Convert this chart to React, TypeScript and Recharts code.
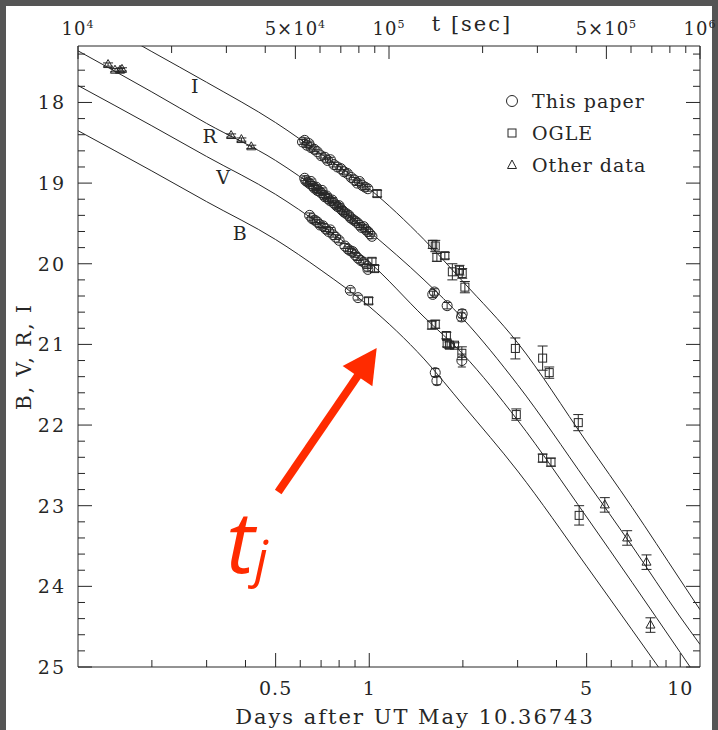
import React from "react";
import {
  ComposedChart,
  Line,
  Scatter,
  XAxis,
  YAxis,
  ErrorBar,
  ReferenceLine,
  ReferenceDot,
  Legend,
} from "recharts";

const SEC_PER_DAY = 86400;
const T_MIN = 1e4 / SEC_PER_DAY;
const T_MAX = 1e6 / SEC_PER_DAY;

const INK = "#262626";
const RED = "#ff2b00";
const SERIF = "'DejaVu Serif', 'Liberation Serif', serif";

// fitted light curves, sampled in days after the burst
const curveDays = [T_MIN, 0.2, 0.3, 0.5, 0.7, 1, 1.5, 2, 3, 5, 7, 10, T_MAX];
const magI = [16.85, 17.37, 17.75, 18.25, 18.64, 19.07, 19.7, 20.22, 20.98, 22.21, 23.02, 23.92, 24.29];
const magR = [17.36, 17.87, 18.26, 18.72, 19.11, 19.6, 20.2, 20.68, 21.5, 22.7, 23.5, 24.38, 24.72];
const magV = [17.79, 18.29, 18.67, 19.14, 19.52, 19.98, 20.66, 21.12, 21.94, 23.14, 23.95, 24.82, 25.18];
const magB = [18.35, 18.85, 19.23, 19.7, 20.08, 20.53, 21.18, 21.75, 22.57, 23.75, 24.54, 25.38, 25.72];

// photometry: [days, mag, error]
type Pt = [number, number, number];

const paperI: Pt[] = [
  [0.61, 18.49, 0.03], [0.62, 18.47, 0.03], [0.63, 18.53, 0.03], [0.64, 18.51, 0.03],
  [0.65, 18.56, 0.03], [0.665, 18.58, 0.03], [0.68, 18.61, 0.03], [0.7, 18.66, 0.03],
  [0.72, 18.68, 0.03], [0.735, 18.72, 0.03], [0.75, 18.71, 0.03], [0.77, 18.77, 0.03],
  [0.79, 18.8, 0.03], [0.81, 18.82, 0.03], [0.83, 18.86, 0.03], [0.85, 18.88, 0.03],
  [0.875, 18.93, 0.03], [0.895, 18.96, 0.03], [0.915, 19.0, 0.03], [0.93, 18.98, 0.03],
  [0.95, 19.03, 0.03], [0.97, 19.05, 0.03], [0.99, 19.07, 0.03],
];
const paperR: Pt[] = [
  [0.62, 18.94, 0.03], [0.625, 18.97, 0.03], [0.635, 18.99, 0.03], [0.645, 19.01, 0.03],
  [0.65, 18.98, 0.03], [0.66, 19.04, 0.03], [0.665, 19.06, 0.03], [0.675, 19.05, 0.03],
  [0.68, 19.09, 0.03], [0.69, 19.1, 0.03], [0.7, 19.12, 0.03], [0.705, 19.09, 0.03],
  [0.715, 19.15, 0.03], [0.72, 19.17, 0.03], [0.73, 19.16, 0.03], [0.74, 19.2, 0.03],
  [0.75, 19.22, 0.03], [0.76, 19.21, 0.03], [0.77, 19.25, 0.03], [0.78, 19.27, 0.03],
  [0.79, 19.29, 0.03], [0.8, 19.28, 0.03], [0.81, 19.32, 0.03], [0.82, 19.34, 0.03],
  [0.83, 19.36, 0.03], [0.845, 19.38, 0.03], [0.86, 19.4, 0.03], [0.87, 19.43, 0.03],
  [0.885, 19.45, 0.03], [0.9, 19.47, 0.03], [0.915, 19.49, 0.03], [0.93, 19.52, 0.03],
  [0.945, 19.55, 0.03], [0.96, 19.54, 0.03], [0.975, 19.58, 0.03], [0.99, 19.6, 0.03],
  [1.005, 19.63, 0.03], [1.02, 19.66, 0.03],
  [1.6, 20.38, 0.04], [1.62, 20.35, 0.04], [1.78, 20.52, 0.04], [1.98, 20.66, 0.05],
  [1.99, 20.62, 0.05],
];
const paperV: Pt[] = [
  [0.643, 19.4, 0.03], [0.655, 19.44, 0.03], [0.668, 19.46, 0.03], [0.68, 19.48, 0.03],
  [0.695, 19.52, 0.03], [0.71, 19.53, 0.03], [0.725, 19.57, 0.03], [0.74, 19.6, 0.03],
  [0.75, 19.58, 0.03], [0.765, 19.64, 0.03], [0.78, 19.67, 0.03], [0.8, 19.71, 0.03],
  [0.835, 19.78, 0.03], [0.855, 19.82, 0.03], [0.87, 19.84, 0.03], [0.885, 19.85, 0.03],
  [0.9, 19.89, 0.03], [0.92, 19.93, 0.03], [0.94, 19.96, 0.03], [0.96, 19.98, 0.03],
  [0.985, 20.03, 0.03], [0.99, 20.07, 0.03],
  [1.985, 21.2, 0.08],
];
const paperB: Pt[] = [
  [0.869, 20.33, 0.03], [0.92, 20.42, 0.03], [1.63, 21.35, 0.05], [1.65, 21.45, 0.05],
];

const ogleI: Pt[] = [
  [1.06, 19.13, 0.04], [1.6, 19.76, 0.05], [1.63, 19.78, 0.07], [1.65, 19.92, 0.05],
  [1.75, 19.9, 0.04], [1.85, 20.1, 0.1], [1.95, 20.08, 0.06], [1.99, 20.12, 0.06],
  [2.03, 20.29, 0.07], [2.95, 21.05, 0.13], [3.61, 21.17, 0.15], [3.79, 21.35, 0.07],
  [4.7, 21.97, 0.1],
];
const ogleV: Pt[] = [
  [1.02, 19.97, 0.04], [1.04, 20.06, 0.04], [1.59, 20.76, 0.05], [1.63, 20.75, 0.05],
  [1.77, 20.89, 0.04], [1.78, 20.99, 0.04], [1.81, 21.01, 0.04], [1.88, 21.01, 0.03],
  [1.985, 21.11, 0.08], [2.97, 21.87, 0.07], [3.61, 22.41, 0.05], [3.84, 22.46, 0.05],
  [4.73, 23.12, 0.12],
];
const ogleB: Pt[] = [[0.995, 20.46, 0.04]];

const otherR: Pt[] = [
  [0.1446, 17.53, 0.02], [0.1522, 17.6, 0.02], [0.158, 17.6, 0.02], [0.1603, 17.59, 0.02],
  [0.3596, 18.41, 0.02], [0.388, 18.46, 0.02], [0.4175, 18.55, 0.02],
  [5.72, 22.99, 0.09], [6.75, 23.4, 0.09], [7.79, 23.7, 0.09],
];
const otherV: Pt[] = [[8.02, 24.48, 0.09]];

// axis ticks
const dayTicks = [0.2, 0.3, 0.4, 0.5, 0.6, 0.7, 0.8, 0.9, 1, 2, 3, 4, 5, 6, 7, 8, 9, 10];
const dayLabels = [0.5, 1, 5, 10];
const secTicks = [
  1e4, 2e4, 3e4, 4e4, 5e4, 6e4, 7e4, 8e4, 9e4,
  1e5, 2e5, 3e5, 4e5, 5e5, 6e5, 7e5, 8e5, 9e5, 1e6,
];
const secLabels: Record<number, [string, string]> = {
  10000: ["10", "4"],
  50000: ["5×10", "4"],
  100000: ["10", "5"],
  500000: ["5×10", "5"],
  1000000: ["10", "6"],
};
const magTicks = [
  17.4, 17.6, 17.8, 18, 18.2, 18.4, 18.6, 18.8, 19, 19.2, 19.4, 19.6, 19.8, 20,
  20.2, 20.4, 20.6, 20.8, 21, 21.2, 21.4, 21.6, 21.8, 22, 22.2, 22.4, 22.6, 22.8,
  23, 23.2, 23.4, 23.6, 23.8, 24, 24.2, 24.4, 24.6, 24.8, 25,
];

const curveLabels = [
  { band: "I", t: 0.2747, mag: 17.79 },
  { band: "R", t: 0.3067, mag: 18.41 },
  { band: "V", t: 0.3388, mag: 18.93 },
  { band: "B", t: 0.3831, mag: 19.62 },
];

// jet-break annotation: arrow tail and tip, text anchor
const arrowFrom = { t: 0.5096, mag: 22.83 };
const arrowTo = { t: 1.0567, mag: 21.045 };
const tjAt = { t: 0.347, mag: 23.83 };

const legendItems = [
  { label: "This paper", mark: "circle" },
  { label: "OGLE", mark: "square" },
  { label: "Other data", mark: "triangle" },
];

const toCurve = (mags: number[]) => curveDays.map((t, i) => ({ t, mag: mags[i] }));
const toPoints = (...sets: Pt[][]) =>
  sets.flat().map(([t, mag, err]) => ({ t, mag, err }));

const curves = [toCurve(magI), toCurve(magR), toCurve(magV), toCurve(magB)];
const thisPaper = toPoints(paperI, paperR, paperV, paperB);
const ogle = toPoints(ogleI, ogleV, ogleB);
const otherData = toPoints(otherR, otherV);

const isWhole = (v: number) => Math.abs(v - Math.round(v)) < 1e-6;

const DayTick = (props: any) => {
  const { x, y, payload } = props;
  const major = dayLabels.includes(payload.value);
  return (
    <g>
      <line x1={x} y1={y} x2={x} y2={y - (major ? 14 : 7)} stroke={INK} />
      {major && (
        <text
          x={x}
          y={y + 28}
          textAnchor="middle"
          fontFamily={SERIF}
          fontSize={19}
          letterSpacing={1}
          fill={INK}
        >
          {payload.value}
        </text>
      )}
    </g>
  );
};

const SecTick = (props: any) => {
  const { x, y, payload } = props;
  const sec = Math.round(payload.value * SEC_PER_DAY);
  const lab = secLabels[sec];
  const major = !!lab;
  return (
    <g>
      <line x1={x} y1={y} x2={x} y2={y + (major ? 13 : 7)} stroke={INK} />
      {lab && (
        <text
          x={x}
          y={y - 11}
          textAnchor="middle"
          fontFamily={SERIF}
          fontSize={18}
          letterSpacing={1}
          fill={INK}
        >
          {lab[0]}
          <tspan dy={-7} fontSize={11}>{lab[1]}</tspan>
        </text>
      )}
    </g>
  );
};

const MagTick = (props: any) => {
  const { x, y, payload } = props;
  const major = isWhole(payload.value);
  return (
    <g>
      <line x1={x} y1={y} x2={x + (major ? 14 : 7)} y2={y} stroke={INK} />
      {major && (
        <text
          x={x - 12}
          y={y + 7}
          textAnchor="end"
          fontFamily={SERIF}
          fontSize={19}
          letterSpacing={2}
          fill={INK}
        >
          {Math.round(payload.value)}
        </text>
      )}
    </g>
  );
};

const MirrorTick = (props: any) => {
  const { x, y, payload } = props;
  const major = isWhole(payload.value);
  return <line x1={x} y1={y} x2={x - (major ? 14 : 7)} y2={y} stroke={INK} />;
};

const CircleMark = (p: any) => (
  <circle cx={p.cx} cy={p.cy} r={5} fill="none" stroke={INK} strokeWidth={1} />
);
const SquareMark = (p: any) => (
  <rect x={p.cx - 4} y={p.cy - 4} width={8} height={8} fill="none" stroke={INK} strokeWidth={1} />
);
const TriangleMark = (p: any) => (
  <polygon
    points={`${p.cx},${p.cy - 5} ${p.cx + 4.5},${p.cy + 3} ${p.cx - 4.5},${p.cy + 3}`}
    fill="none"
    stroke={INK}
    strokeWidth={1}
  />
);

const ArrowShape = (p: any) => {
  const { x1, y1, x2, y2 } = p;
  const len = Math.hypot(x2 - x1, y2 - y1);
  const ux = (x2 - x1) / len;
  const uy = (y2 - y1) / len;
  const headLen = 34;
  const half = 18;
  const bx = x2 - ux * headLen;
  const by = y2 - uy * headLen;
  return (
    <g>
      <line x1={x1} y1={y1} x2={bx + ux * 2} y2={by + uy * 2} stroke={RED} strokeWidth={8} />
      <polygon
        points={`${x2},${y2} ${bx - uy * half},${by + ux * half} ${bx + uy * half},${by - ux * half}`}
        fill={RED}
      />
    </g>
  );
};

const bandLabel = (text: string) => (p: any) => (
  <text
    x={p.viewBox.x}
    y={p.viewBox.y + 7}
    textAnchor="middle"
    fontFamily={SERIF}
    fontSize={19}
    fill={INK}
  >
    {text}
  </text>
);

const tjLabel = (p: any) => (
  <text
    x={p.viewBox.x}
    y={p.viewBox.y}
    fill={RED}
    fontFamily="'Open Sans', 'Noto Sans', sans-serif"
    fontStyle="italic"
    fontSize={86}
  >
    t
    <tspan fontSize={52} dy={4}>j</tspan>
  </text>
);

const LegendBox = () => (
  <div style={{ fontFamily: SERIF, fontSize: 19, letterSpacing: 1, color: INK }}>
    {legendItems.map((it) => (
      <div key={it.label} style={{ display: "flex", alignItems: "center", height: 32 }}>
        <svg width={18} height={18}>
          {it.mark === "circle" && <circle cx={9} cy={9} r={5.5} fill="none" stroke={INK} />}
          {it.mark === "square" && (
            <rect x={5} y={5} width={8} height={8} fill="none" stroke={INK} />
          )}
          {it.mark === "triangle" && (
            <polygon points="9,4 13.5,12.5 4.5,12.5" fill="none" stroke={INK} />
          )}
        </svg>
        <span style={{ marginLeft: 11, lineHeight: "32px" }}>{it.label}</span>
      </div>
    ))}
  </div>
);

export default function App() {
  return (
    <div style={{ position: "absolute", left: 0, top: 0, width: 718, height: 730, background: "#555" }}>
      <div style={{ position: "absolute", left: 6, top: 6, width: 706, height: 724, background: "#fff" }} />
      <div style={{ position: "absolute", left: 0, top: 0 }}>
        <ComposedChart
          width={718}
          height={730}
          margin={{ top: 45, right: 17, bottom: 62, left: 77 }}
        >
          <XAxis
            dataKey="t"
            type="number"
            scale="log"
            domain={[T_MIN, T_MAX]}
            allowDataOverflow
            ticks={dayTicks}
            interval={0}
            height={1}
            tickSize={0}
            tickMargin={0}
            tickLine={false}
            tick={<DayTick />}
            axisLine={{ stroke: INK }}
            label={{
              content: (p: any) => (
                <text
                  x={p.viewBox.x + p.viewBox.width / 2 + 26}
                  y={p.viewBox.y + 57}
                  textAnchor="middle"
                  fontFamily={SERIF}
                  fontSize={21}
                  letterSpacing={2}
                  fill={INK}
                >
                  Days after UT May 10.36743
                </text>
              ),
            }}
          />
          <XAxis
            xAxisId="sec"
            orientation="top"
            dataKey="t"
            type="number"
            scale="log"
            domain={[T_MIN, T_MAX]}
            allowDataOverflow
            ticks={secTicks.map((s) => s / SEC_PER_DAY)}
            interval={0}
            height={1}
            tickSize={0}
            tickMargin={0}
            tickLine={false}
            tick={<SecTick />}
            axisLine={{ stroke: INK }}
            label={{
              content: (p: any) => (
                <text
                  x={p.viewBox.x + 394}
                  y={p.viewBox.y - 14}
                  textAnchor="middle"
                  fontFamily={SERIF}
                  fontSize={21}
                  letterSpacing={2}
                  fill={INK}
                >
                  t [sec]
                </text>
              ),
            }}
          />
          <YAxis
            type="number"
            domain={[17.3, 25]}
            reversed
            allowDataOverflow
            ticks={magTicks}
            interval={0}
            width={1}
            tickSize={0}
            tickMargin={0}
            tickLine={false}
            tick={<MagTick />}
            axisLine={{ stroke: INK }}
            label={{
              content: (p: any) => {
                const cx = p.viewBox.x - 46;
                const cy = p.viewBox.y + p.viewBox.height / 2;
                return (
                  <text
                    x={cx}
                    y={cy}
                    transform={`rotate(-90 ${cx} ${cy})`}
                    textAnchor="middle"
                    fontFamily={SERIF}
                    fontSize={20}
                    letterSpacing={2}
                    fill={INK}
                  >
                    B, V, R, I
                  </text>
                );
              },
            }}
          />
          <YAxis
            yAxisId="mirror"
            orientation="right"
            type="number"
            domain={[17.3, 25]}
            reversed
            allowDataOverflow
            ticks={magTicks}
            interval={0}
            width={1}
            tickSize={0}
            tickMargin={0}
            tickLine={false}
            tick={<MirrorTick />}
            axisLine={{ stroke: INK }}
          />

          {curves.map((c, i) => (
            <Line
              key={i}
              data={c}
              dataKey="mag"
              type="monotone"
              stroke={INK}
              strokeWidth={1}
              dot={false}
              activeDot={false}
              isAnimationActive={false}
            />
          ))}
          <Line
            data={curves[0]}
            xAxisId="sec"
            yAxisId="mirror"
            dataKey="mag"
            stroke="none"
            dot={false}
            activeDot={false}
            isAnimationActive={false}
          />

          <Scatter name="This paper" data={thisPaper} dataKey="mag" shape={CircleMark} isAnimationActive={false}>
            <ErrorBar dataKey="err" direction="y" width={4} stroke={INK} strokeWidth={1} isAnimationActive={false} />
          </Scatter>
          <Scatter name="OGLE" data={ogle} dataKey="mag" shape={SquareMark} isAnimationActive={false}>
            <ErrorBar dataKey="err" direction="y" width={5} stroke={INK} strokeWidth={1} isAnimationActive={false} />
          </Scatter>
          <Scatter name="Other data" data={otherData} dataKey="mag" shape={TriangleMark} isAnimationActive={false}>
            <ErrorBar dataKey="err" direction="y" width={5} stroke={INK} strokeWidth={1} isAnimationActive={false} />
          </Scatter>

          {curveLabels.map((c) => (
            <ReferenceDot
              key={c.band}
              x={c.t}
              y={c.mag}
              r={0}
              fill="none"
              stroke="none"
              label={{ content: bandLabel(c.band) }}
            />
          ))}

          <ReferenceLine
            segment={[
              { x: arrowFrom.t, y: arrowFrom.mag },
              { x: arrowTo.t, y: arrowTo.mag },
            ]}
            shape={ArrowShape}
          />
          <ReferenceDot x={tjAt.t} y={tjAt.mag} r={0} fill="none" stroke="none" label={{ content: tjLabel }} />

          <Legend
            layout="vertical"
            align="center"
            verticalAlign="middle"
            content={() => <LegendBox />}
            wrapperStyle={{ left: 503, top: 85, width: 190 }}
          />
        </ComposedChart>
      </div>
    </div>
  );
}
